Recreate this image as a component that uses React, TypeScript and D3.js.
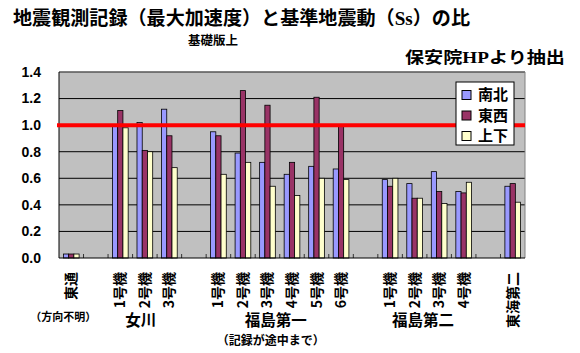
import React from 'react';
import * as d3 from 'd3';

// categories along the x axis ('' = gap between plant groups)
const categories = ['東通', '', '1号機', '2号機', '3号機', '', '1号機', '2号機', '3号機', '4号機', '5号機', '6号機', '', '1号機', '2号機', '3号機', '4号機', '', '東海第二'];
const seriesNames = ['南北', '東西', '上下'];
const nanboku = [0.03, null, 1.0, 1.02, 1.12, null, 0.95, 0.79, 0.72, 0.63, 0.69, 0.67, null, 0.59, 0.56, 0.65, 0.5, null, 0.54];
const touzai = [0.03, null, 1.11, 0.81, 0.92, null, 0.92, 1.26, 1.15, 0.72, 1.21, 0.99, null, 0.54, 0.45, 0.5, 0.49, null, 0.56];
const jouge = [0.03, null, 0.98, 0.8, 0.68, null, 0.63, 0.72, 0.54, 0.47, 0.6, 0.59, null, 0.6, 0.45, 0.41, 0.57, null, 0.42];
const yTicks = [0, 0.2, 0.4, 0.6, 0.8, 1.0, 1.2, 1.4];
// plant groups: [first index, last index, name, note]
const groups: [number, number, string, string][] = [
  [0, 0, '', '（方向不明）'],
  [2, 4, '女川', ''],
  [6, 11, '福島第一', '（記録が途中まで）'],
  [13, 16, '福島第二', ''],
];

const colors = ['#9999FF', '#993366', '#FFFFCC'];
const JP = '"Noto Sans CJK JP", sans-serif';
const NUM = '"Liberation Sans", Arial, sans-serif';
const SERIF = '"Liberation Serif", serif';

const W = 580;
const H = 353;
const left = 59;
const right = 525;
const top = 72;
const bottom = 258;

export default function App() {
  const x = d3.scaleBand<number>().domain(d3.range(categories.length)).range([left, right]).padding(0);
  const bw = x.bandwidth();
  const x1 = d3.scaleBand<number>().domain([0, 1, 2]).range([bw * 0.18, bw * 0.82]).padding(0);
  const y = d3.scaleLinear().domain([0, 1.4]).range([bottom, top]);
  const series = [nanboku, touzai, jouge];

  return (
    <svg width={W} height={H} style={{ display: 'block', background: '#fff' }}>
      <style>{`body{margin:0}`}</style>
      {/* titles */}
      <text x={13} y={25} fontFamily={JP} fontSize={19} fontWeight="bold" textLength={457} lengthAdjust="spacingAndGlyphs">
        地震観測記録（最大加速度）と基準地震動（<tspan fontFamily={SERIF}>Ss</tspan>）の比
      </text>
      <text x={188} y={45} fontFamily={JP} fontSize={12} fontWeight="bold" textLength={50} lengthAdjust="spacingAndGlyphs">
        基礎版上
      </text>
      <text x={405} y={63} fontFamily={JP} fontSize={16} fontWeight="bold" textLength={160} lengthAdjust="spacingAndGlyphs">
        保安院<tspan fontFamily={SERIF}>HP</tspan>より抽出
      </text>

      {/* plot area */}
      <rect x={left} y={top} width={right - left} height={bottom - top} fill="#C0C0C0" />
      {yTicks.slice(1).map((t) => (
        <line key={t} x1={left} x2={right} y1={y(t)} y2={y(t)} stroke="#000" strokeWidth={1} />
      ))}
      <line x1={left} x2={right} y1={top} y2={top} stroke="#808080" />
      <line x1={right} x2={right} y1={top} y2={bottom} stroke="#808080" />
      <line x1={left} x2={left} y1={top} y2={bottom} stroke="#000" />

      {/* bars */}
      {categories.map((c, i) =>
        series.map((s, k) => {
          const v = s[i];
          if (v == null) return null;
          return (
            <rect
              key={`${i}-${k}`}
              x={(x(i) as number) + (x1(k) as number)}
              y={y(v)}
              width={x1.bandwidth()}
              height={y(0) - y(v)}
              fill={colors[k]}
              stroke="#000"
              strokeWidth={0.8}
            />
          );
        })
      )}

      {/* category ticks */}
      {d3.range(1, categories.length).map((i) => (
        <line key={i} x1={x(i)} x2={x(i)} y1={bottom} y2={bottom - 4} stroke="#333" />
      ))}
      <line x1={left} x2={right} y1={bottom} y2={bottom} stroke="#000" />

      {/* reference line at 1.0 */}
      <line x1={left - 2} x2={right} y1={y(1)} y2={y(1)} stroke="#FF0000" strokeWidth={4} />

      {/* y axis labels */}
      {yTicks.map((t) => (
        <text key={t} x={41} y={y(t)} dy="0.35em" textAnchor="end" fontFamily={NUM} fontSize={14} fontWeight="bold">
          {t.toFixed(1)}
        </text>
      ))}

      {/* category labels (rotated) */}
      {categories.map((c, i) =>
        c ? (
          <text
            key={i}
            transform={`translate(${(x(i) as number) + bw / 2 - 1},272) rotate(-90)`}
            textAnchor="end"
            dominantBaseline="central"
            fontFamily={JP}
            fontSize={14}
            fontWeight="bold"
          >
            {c}
          </text>
        ) : null
      )}

      {/* group labels */}
      {groups.map(([a, b, name, note]) => {
        const cx = ((x(a) as number) + (x(b) as number) + bw) / 2;
        return (
          <g key={a}>
            {name && (
              <text x={cx - 4} y={326} textAnchor="middle" fontFamily={JP} fontSize={15.5} fontWeight="bold">
                {name}
              </text>
            )}
            {note && (
              <text x={name ? cx - 9 : cx - 8} y={name ? 345 : 321} textAnchor="middle" fontFamily={JP} fontSize={name ? 12 : 11} fontWeight="bold">
                {note}
              </text>
            )}
          </g>
        );
      })}

      {/* legend */}
      <rect x={456} y={82} width={58} height={63} fill="#fff" stroke="#000" />
      {seriesNames.map((n, k) => (
        <g key={n} transform={`translate(462,${95 + k * 20.5})`}>
          <rect x={0} y={-4.5} width={9} height={9} fill={colors[k]} stroke="#000" />
          <text x={16} y={0} dy="0.36em" fontFamily={JP} fontSize={15} fontWeight="bold">
            {n}
          </text>
        </g>
      ))}
    </svg>
  );
}
